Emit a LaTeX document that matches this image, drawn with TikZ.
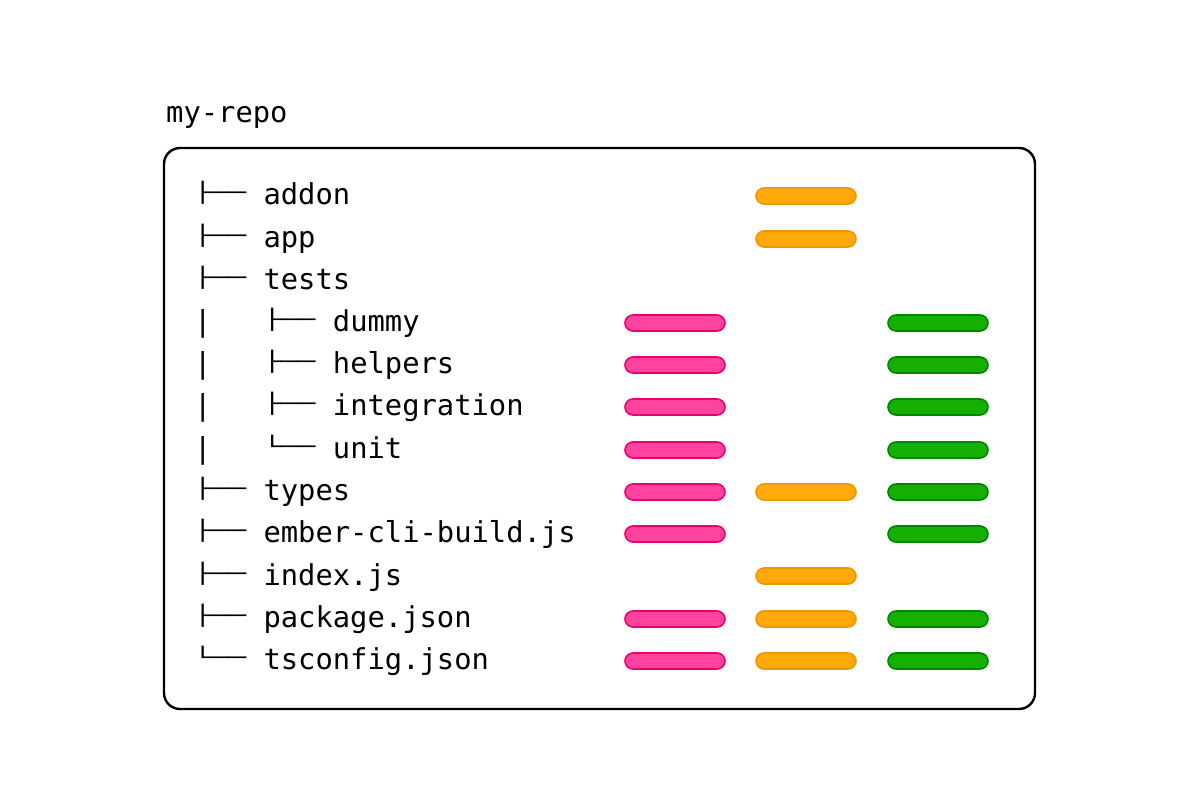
\documentclass[tikz,border=0pt]{standalone}
\usepackage{fontspec}
\usepackage{graphicx}
\newfontfamily\treefont{DejaVu Sans Mono}
\newcommand{\tbr}[1]{\raisebox{4.6pt}{\scalebox{1}[0.68]{#1}}}
\definecolor{pinkfill}{RGB}{255,68,160}
\definecolor{pinkline}{RGB}{235,0,110}
\definecolor{orangefill}{RGB}{255,170,10}
\definecolor{orangeline}{RGB}{240,150,0}
\definecolor{greenfill}{RGB}{20,175,0}
\definecolor{greenline}{RGB}{0,135,0}
\begin{document}
\begin{tikzpicture}[x=1pt,y=-1pt,
  treetext/.style={anchor=base west,inner sep=0pt,font=\treefont\fontsize{28.8}{34}\selectfont},
  bar/.style={minimum width=100pt,minimum height=16pt,inner sep=0pt,rounded corners=8pt,line width=1.6pt},
  pinkbar/.style={bar,draw=pinkline,fill=pinkfill},
  orangebar/.style={bar,draw=orangeline,fill=orangefill},
  greenbar/.style={bar,draw=greenline,fill=greenfill}]
\useasboundingbox (0,0) rectangle (1200,800);
\node[treetext] (title) at (166,122) {my-repo};
\draw[line width=2.4pt,rounded corners=16pt] (164,148) rectangle (1035,709);
% rows
\node[treetext] (r1) at (194,204) {\tbr{├──}~addon};
\node[treetext] (r2) at (194,247) {\tbr{├──}~app};
\node[treetext] (r3) at (194,289) {\tbr{├──}~tests};
\node[treetext] (r4) at (194,331) {|~~~\tbr{├──}~dummy};
\node[treetext] (r5) at (194,373) {|~~~\tbr{├──}~helpers};
\node[treetext] (r6) at (194,415) {|~~~\tbr{├──}~integration};
\node[treetext] (r7) at (194,458) {|~~~\tbr{└──}~unit};
\node[treetext] (r8) at (194,500) {\tbr{├──}~types};
\node[treetext] (r9) at (194,542) {\tbr{├──}~ember-cli-build.js};
\node[treetext] (r10) at (194,585) {\tbr{├──}~index.js};
\node[treetext] (r11) at (194,627) {\tbr{├──}~package.json};
\node[treetext] (r12) at (194,669) {\tbr{└──}~tsconfig.json};
% bars
\node[orangebar] (o1) at (806,196) {};
\node[orangebar] (o2) at (806,239) {};
\node[pinkbar] (p4) at (675,323) {};
\node[greenbar] (g4) at (938,323) {};
\node[pinkbar] (p5) at (675,365) {};
\node[greenbar] (g5) at (938,365) {};
\node[pinkbar] (p6) at (675,407) {};
\node[greenbar] (g6) at (938,407) {};
\node[pinkbar] (p7) at (675,450) {};
\node[greenbar] (g7) at (938,450) {};
\node[pinkbar] (p8) at (675,492) {};
\node[orangebar] (o8) at (806,492) {};
\node[greenbar] (g8) at (938,492) {};
\node[pinkbar] (p9) at (675,534) {};
\node[greenbar] (g9) at (938,534) {};
\node[orangebar] (o10) at (806,576) {};
\node[pinkbar] (p11) at (675,619) {};
\node[orangebar] (o11) at (806,619) {};
\node[greenbar] (g11) at (938,619) {};
\node[pinkbar] (p12) at (675,661) {};
\node[orangebar] (o12) at (806,661) {};
\node[greenbar] (g12) at (938,661) {};
\end{tikzpicture}
\end{document}
